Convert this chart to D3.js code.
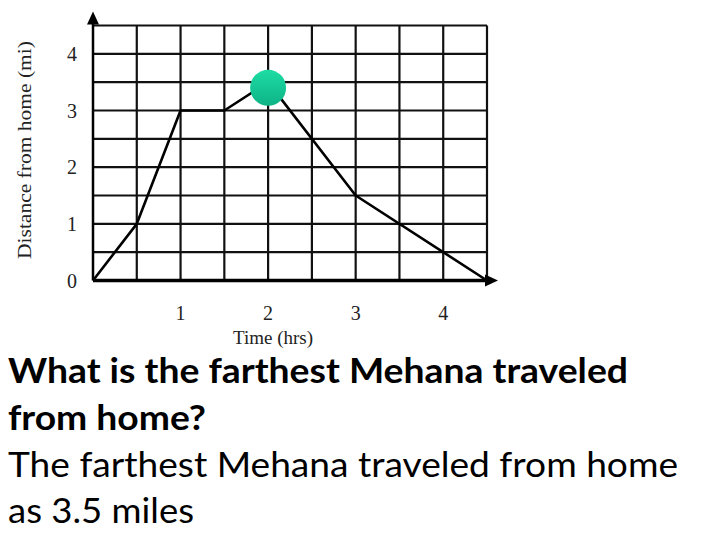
<!DOCTYPE html>
<html><head><meta charset="utf-8">
<script src="https://cdn.jsdelivr.net/npm/d3@7"></script>
<style>body{margin:0;background:#fff}svg{display:block}</style>
</head><body>
<svg id="c" width="720" height="540"></svg>
<script>
const times = [0, 0.5, 1, 1.5, 2, 3, 4.5];
const distances = [0, 1, 3, 3, 3.5, 1.5, 0];
const xTicks = [1, 2, 3, 4];
const yTicks = [0, 1, 2, 3, 4];
const gridStep = 0.5;
const xMax = 4.5, yMax = 4.5;
const marker = {t: 2, d: 3.4};
const xTitle = "Time (hrs)";
const yTitle = "Distance from home (mi)";
const questionLines = ["What is the farthest Mehana traveled", "from home?"];
const answerLines = ["The farthest Mehana traveled from home", "as 3.5 miles"];

const svg = d3.select("#c");
const x = d3.scaleLinear().domain([0, xMax]).range([93, 487]);
const y = d3.scaleLinear().domain([0, yMax]).range([280.5, 25.5]);

const defs = svg.append("defs");
const grad = defs.append("linearGradient").attr("id","g").attr("x1",0).attr("y1",0).attr("x2",0).attr("y2",1);
grad.append("stop").attr("offset","0%").attr("stop-color","#1edca4");
grad.append("stop").attr("offset","100%").attr("stop-color","#0db386");

const gridX = d3.range(0, xMax + 0.001, gridStep);
const gridY = d3.range(gridStep, yMax + 0.001, gridStep);
const g = svg.append("g");
g.selectAll(".vx").data(gridX.slice(1)).join("line")
  .attr("x1", d => x(d)).attr("x2", d => x(d)).attr("y1", y(yMax)).attr("y2", y(0))
  .attr("stroke", "#111").attr("stroke-width", 2.2);
g.selectAll(".hy").data(gridY).join("line")
  .attr("x1", x(0)).attr("x2", x(xMax)).attr("y1", d => y(d)).attr("y2", d => y(d))
  .attr("stroke", "#111").attr("stroke-width", 2.2);

// axes
g.append("line").attr("x1", x(0)).attr("x2", x(0)).attr("y1", y(0)).attr("y2", y(yMax) - 3)
  .attr("stroke", "#000").attr("stroke-width", 2.5);
g.append("line").attr("x1", x(0)).attr("x2", x(xMax) + 2).attr("y1", y(0)).attr("y2", y(0))
  .attr("stroke", "#000").attr("stroke-width", 3.5);
// arrowheads
g.append("path").attr("d", `M${x(0)},${y(yMax)-14} L${x(0)-6},${y(yMax)-1} L${x(0)+6},${y(yMax)-1}Z`).attr("fill","#000");
g.append("path").attr("d", `M${x(xMax)+11},${y(0)} L${x(xMax)-2},${y(0)-6} L${x(xMax)-2},${y(0)+6}Z`).attr("fill","#000");

// data line
const line = d3.line().x((d,i) => x(times[i])).y(d => y(d));
g.append("path").datum(distances).attr("d", line).attr("fill","none")
  .attr("stroke","#000").attr("stroke-width", 2.6).attr("stroke-linejoin","round");

g.append("circle").attr("cx", x(marker.t)).attr("cy", y(marker.d)).attr("r", 18).attr("fill", "url(#g)");

// tick labels
const serif = "'Liberation Serif','Times New Roman',serif";
g.selectAll(".xt").data(xTicks).join("text")
  .attr("x", d => x(d)).attr("y", 320).attr("text-anchor","middle")
  .attr("font-family", serif).attr("font-size", 20).attr("fill","#222").text(d => d);
g.selectAll(".yt").data(yTicks).join("text")
  .attr("x", 72).attr("y", d => y(d) + 7).attr("text-anchor","middle")
  .attr("font-family", serif).attr("font-size", 20).attr("fill","#222").text(d => d);

g.append("text").attr("x", 273).attr("y", 344).attr("text-anchor","middle")
  .attr("font-family", serif).attr("font-size", 19).attr("fill","#222").text(xTitle);
g.append("text").attr("transform","translate(31,150) rotate(-90)").attr("text-anchor","middle")
  .attr("font-family", serif).attr("font-size", 19).attr("fill","#222")
  .attr("textLength", 218).attr("lengthAdjust","spacingAndGlyphs").text(yTitle);

// text block
const sans = "Lato, 'Open Sans', sans-serif";
const qWidths = [620, 198];
const aWidths = [670, 186];
questionLines.forEach((t, i) => {
  svg.append("text").attr("x", 8).attr("y", 383 + i*47).attr("font-family", sans)
    .attr("font-weight", "bold").attr("font-size", 34).attr("fill","#000")
    .attr("textLength", qWidths[i]).attr("lengthAdjust","spacingAndGlyphs").text(t);
});
answerLines.forEach((t, i) => {
  svg.append("text").attr("x", 8).attr("y", 477 + i*46).attr("font-family", sans)
    .attr("font-size", 35).attr("fill","#000")
    .attr("textLength", aWidths[i]).attr("lengthAdjust","spacingAndGlyphs").text(t);
});
</script>
</body></html>
